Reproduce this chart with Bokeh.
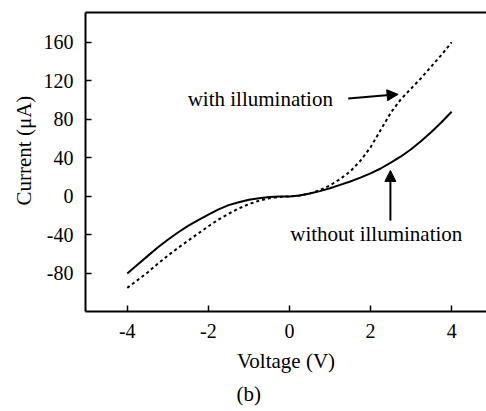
from bokeh.plotting import figure
from bokeh.models import (Range1d, LinearAxis, FixedTicker, Arrow, NormalHead, Label,
                          PrintfTickFormatter, Title)
from bokeh.embed import file_html
from bokeh.resources import INLINE

# Data
v_dark = [-4, -3.75, -3.5, -3.25, -3, -2.75, -2.5, -2.25, -2, -1.75, -1.5, -1.25, -1, -0.75,
          -0.5, -0.25, 0, 0.25, 0.5, 0.75, 1, 1.25, 1.5, 1.75, 2, 2.25, 2.5, 2.75, 3, 3.25,
          3.5, 3.75, 4]
i_dark = [-80, -71, -62, -53, -45, -37.5, -30.5, -24.5, -19, -13.5, -9, -6, -3.5, -1.8,
          -0.7, -0.2, 0, 1, 3, 5.5, 8.5, 12, 15.5, 19.5, 24, 29, 35, 41.5, 49, 57.5,
          67, 77, 88]

v_light = [-4, -3.75, -3.5, -3.25, -3, -2.75, -2.5, -2.25, -2, -1.75, -1.5, -1.25, -1, -0.75,
           -0.5, -0.25, 0, 0.25, 0.5, 0.75, 1, 1.25, 1.5, 1.75, 2, 2.25, 2.5, 2.75, 3, 3.25,
           3.5, 3.75, 4]
i_light = [-95, -87, -79, -70, -61.5, -53.5, -46, -38.5, -31, -24, -18, -12.5, -8, -4.5,
           -2, -0.5, 0, 1, 3, 6.5, 11.5, 18, 26, 37, 51, 69, 87, 101, 112, 123,
           135, 147, 160]

x_ticks = [-4, -2, 0, 2, 4]
y_ticks = [-80, -40, 0, 40, 80, 120, 160]

FONT = "Liberation Serif"

p = figure(width=486, height=411, output_backend="svg", toolbar_location=None,
           x_range=Range1d(-5.03, 4.86), y_range=Range1d(-119.5, 191),
           min_border_left=85, min_border_right=0, min_border_top=12, min_border_bottom=100)
p.outline_line_color = None
p.xgrid.visible = False
p.ygrid.visible = False
p.background_fill_color = "white"

for ax in (p.xaxis[0], p.yaxis[0]):
    ax.axis_line_width = 2
    ax.axis_line_color = "black"
    ax.major_tick_line_width = 1.5
    ax.major_tick_in = 6
    ax.major_tick_out = 0
    ax.minor_tick_line_color = None
    ax.major_label_text_font = FONT
    ax.major_label_text_font_size = "20px"
    ax.major_label_text_color = "black"
    ax.major_label_standoff = 12
    ax.formatter = PrintfTickFormatter(format="%d")
    ax.axis_label_text_font = FONT
    ax.axis_label_text_font_size = "21px"
    ax.axis_label_text_font_style = "normal"
    ax.axis_label_text_color = "black"

p.xaxis[0].ticker = FixedTicker(ticks=x_ticks)
p.yaxis[0].ticker = FixedTicker(ticks=y_ticks)
p.xaxis[0].axis_label = "Voltage (V)"
p.xaxis[0].axis_label_standoff = 8

top = LinearAxis(ticker=FixedTicker(ticks=[]), axis_line_width=2, axis_line_color="black",
                 major_tick_line_color=None, minor_tick_line_color=None)
p.add_layout(top, "above")

p.add_layout(Title(text="Current (μA)", text_font=FONT, text_font_size="21px",
                   text_font_style="normal", text_color="black",
                   align="left", offset=106, standoff=10), "left")
p.add_layout(Title(text="(b)", text_font=FONT, text_font_size="21px", text_font_style="normal",
                   text_color="black", align="left", offset=151, standoff=9), "below")

p.line(v_dark, i_dark, line_color="black", line_width=2)
p.line(v_light, i_light, line_color="black", line_width=2, line_dash="3 3")

p.add_layout(Label(x=-2.51, y=101, text="with illumination", text_font=FONT,
                   text_font_size="21px", text_baseline="middle", text_color="black"))
p.add_layout(Label(x=0.02, y=-38.5, text="without illumination", text_font=FONT,
                   text_font_size="21px", text_baseline="middle", text_color="black"))

p.add_layout(Arrow(x_start=1.45, y_start=101.8, x_end=2.68, y_end=106,
                   line_width=2, line_color="black",
                   end=NormalHead(size=11, fill_color="black", line_color="black")))
p.add_layout(Arrow(x_start=2.49, y_start=-25, x_end=2.49, y_end=27,
                   line_width=2, line_color="black",
                   end=NormalHead(size=11, fill_color="black", line_color="black")))

open("out.html", "w").write(file_html(p, INLINE))
